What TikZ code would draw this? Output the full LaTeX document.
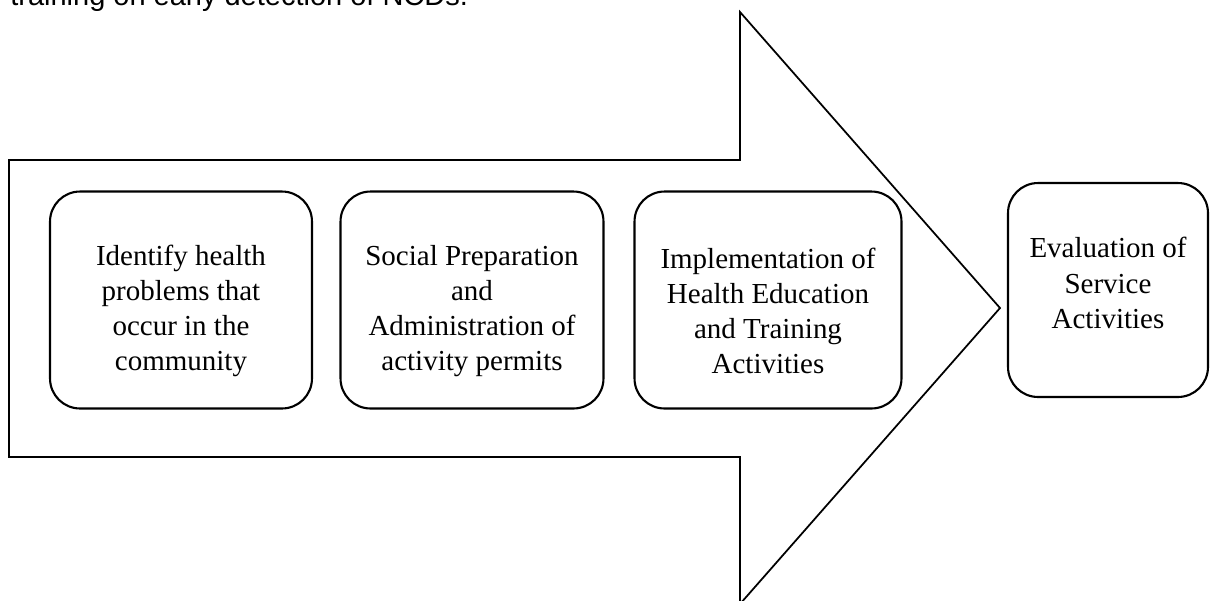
\documentclass[tikz,border=0pt]{standalone}
\usepackage{fontspec}
\setmainfont{Liberation Serif}
\newfontfamily\arialfont{Liberation Sans}
\usepackage{tikz}

\tikzset{
  stepbox/.style={draw, line width=1.2pt, rounded corners=0.6cm,
    minimum height=4.34cm},
  steptext/.style={align=center, font=\fontsize{16.5}{20}\selectfont},
  bigarrow/.style={draw, line width=1pt, line join=miter}
}

\begin{document}
\begin{tikzpicture}[x=0.02cm, y=-0.02cm, every text node part/.style={align=center}]
  \useasboundingbox (0,0) rectangle (1210,600);

  \node[anchor=base west, inner sep=0pt, font=\arialfont\fontsize{16.5}{20}\selectfont] (intro) at (10,5) {training on early detection of NCDs.};

  \draw[bigarrow] (9,160) -- (740,160) -- (740,12) -- (1000,308) -- (740,604) -- (740,457) -- (9,457) -- cycle;

  \node[stepbox, minimum width=5.24cm] (identify) at (181,300) {};
  \node[stepbox, minimum width=5.26cm] (prepare) at (472,300) {};
  \node[stepbox, minimum width=5.34cm] (implement) at (768,300) {};
  \node[stepbox, minimum width=4cm, minimum height=4.28cm] (evaluate) at (1108,290) {};

  \node[steptext] (identify text) at (181,311) {Identify health\\ problems that\\ occur in the\\ community};
  \node[steptext] (prepare text) at (472,311) {Social Preparation\\ and\\ Administration of\\ activity permits};
  \node[steptext] (implement text) at (768,311) {Implementation of\\ Health Education\\ and Training\\ Activities};
  \node[steptext] (evaluate text) at (1108,283) {Evaluation of\\ Service\\ Activities};
\end{tikzpicture}
\end{document}
